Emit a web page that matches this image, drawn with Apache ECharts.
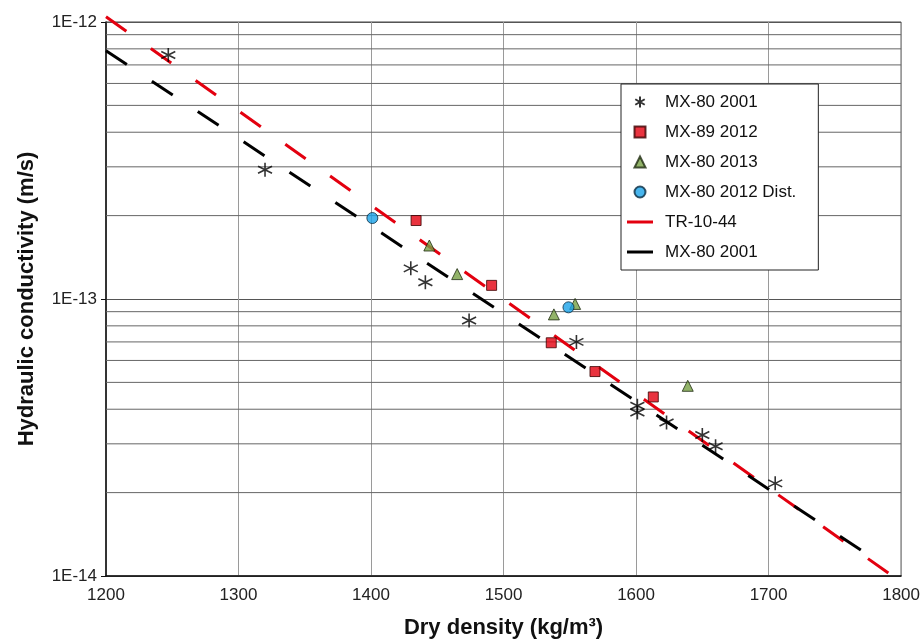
<!DOCTYPE html>
<html>
<head>
<meta charset="utf-8">
<script src="https://cdn.jsdelivr.net/npm/echarts@6/dist/echarts.min.js"></script>
<style>
html,body{margin:0;padding:0;background:#fff;}
#chart{width:923px;height:644px;}
</style>
</head>
<body>
<div id="chart"></div>
<script>
// ---- data ----
const mx80_2001 = [[1247,7.6e-13],[1320,2.93e-13],[1430,1.29e-13],[1441,1.15e-13],[1474,8.36e-14],[1555,7.0e-14],[1601,4.12e-14],[1601,3.89e-14],[1623,3.58e-14],[1650,3.23e-14],[1660,2.94e-14],[1705,2.16e-14]];
const mx89_2012 = [[1434,1.92e-13],[1491,1.12e-13],[1536,6.95e-14],[1569,5.47e-14],[1613,4.43e-14]];
const mx80_2013 = [[1444,1.56e-13],[1465,1.23e-13],[1538,8.8e-14],[1554,9.6e-14],[1639,4.86e-14]];
const mx80_2012dist = [[1401,1.96e-13],[1549,9.33e-14]];
const tr1044 = [[1200,1.045e-12],[1800,9.5e-15]];
const fit2001 = [[1200,7.87e-13],[1780,1.15e-14]];
const minorGrid = [2e-14,3e-14,4e-14,5e-14,6e-14,7e-14,8e-14,9e-14,2e-13,3e-13,4e-13,5e-13,6e-13,7e-13,8e-13,9e-13];
const xTicks = [1200,1300,1400,1500,1600,1700,1800];
const legendNames = ['MX-80 2001','MX-89 2012','MX-80 2013','MX-80 2012 Dist.','TR-10-44','MX-80 2001 (fit)'];

const FONT = "'Liberation Sans', Arial, sans-serif";
const asterisk = 'path://M6,0 L6,12 M0.8,3 L11.2,9 M0.8,9 L11.2,3';
const icons = [
  'path://M5,0 L5,10 M0.7,2.5 L9.3,7.5 M0.7,7.5 L9.3,2.5',
  'path://M0,0 H10 V10 H0 Z',
  'path://M5,0 L10,10 H0 Z',
  'path://M0,5 A5,5 0 1,0 10,5 A5,5 0 1,0 0,5 Z',
  'path://M0,0 H26 V3 H0 Z',
  'path://M0,0 H26 V3 H0 Z'
];
const xMin = xTicks[0], xMax = xTicks[xTicks.length-1];

const gridSeries = minorGrid.map(v => ({
  type:'line', data:[[xMin, v],[xMax, v]], symbol:'none', silent:true, z:1,
  lineStyle:{color:'#666', width:1}, emphasis:{disabled:true}, tooltip:{show:false}
}));

const chart = echarts.init(document.getElementById('chart'), null, {renderer:'canvas'});
const option = {
  animation: false,
  backgroundColor: '#fff',
  grid: {left:106, right:20, top:22, bottom:68, show:true, borderColor:'#444', borderWidth:1},
  xAxis: {
    type:'value', min:xMin, max:xMax, interval:100,
    name:'Dry density (kg/m\u00b3)', nameLocation:'middle', nameGap:41,
    nameTextStyle:{fontFamily:FONT, fontSize:22, fontWeight:'bold', color:'#111'},
    axisLine:{lineStyle:{color:'#111', width:1.5}},
    axisTick:{show:false},
    axisLabel:{fontFamily:FONT, fontSize:17, color:'#222', margin:11, formatter: v => String(v)},
    splitLine:{show:true, lineStyle:{color:'#9a9a9a', width:1}}
  },
  yAxis: {
    type:'log', logBase:10, min:1e-14, max:1e-12,
    name:'Hydraulic conductivity (m/s)', nameLocation:'middle', nameGap:68, nameRotate:90,
    nameTextStyle:{fontFamily:FONT, fontSize:22, fontWeight:'bold', color:'#111'},
    axisLine:{show:true, lineStyle:{color:'#111', width:1.5}},
    axisTick:{show:true, length:5, lineStyle:{color:'#111'}},
    axisLabel:{fontFamily:FONT, fontSize:17, color:'#222', margin:9,
      formatter: v => '1E' + Math.round(Math.log10(v))},
    splitLine:{show:true, lineStyle:{color:'#555', width:1}}
  },
  legend: {
    data: legendNames.map((n,i) => ({name:n, icon:icons[i]})),
    orient:'vertical', left:621, top:84,
    backgroundColor:'#fff', borderColor:'#222', borderWidth:1,
    padding:[9,22,9,6], itemGap:12, itemWidth:26, itemHeight:11,
    symbolKeepAspect:true,
    textStyle:{fontFamily:FONT, fontSize:17, color:'#111', lineHeight:18, padding:[0,0,0,7]},
    formatter: n => n.replace(' (fit)','')
  },
  series: gridSeries.concat([
    {type:'scatter', name:legendNames[0], data:mx80_2001, symbol:asterisk, symbolSize:14, z:5,
      itemStyle:{color:'rgba(0,0,0,0)', borderColor:'#000', borderWidth:1.6}},
    {type:'scatter', name:legendNames[1], data:mx89_2012, symbol:'rect', symbolSize:10, z:5,
      itemStyle:{color:'#e3000f', borderColor:'#3a0000', borderWidth:1}},
    {type:'scatter', name:legendNames[2], data:mx80_2013, symbol:'triangle', symbolSize:11, z:5,
      itemStyle:{color:'#77a043', borderColor:'#1e2a10', borderWidth:1}},
    {type:'scatter', name:legendNames[3], data:mx80_2012dist, symbol:'circle', symbolSize:11, z:5,
      itemStyle:{color:'#1aa3e8', borderColor:'#0a2a40', borderWidth:1}},
    {type:'line', name:legendNames[4], data:tr1044, symbol:'none', clip:false, z:3,
      itemStyle:{color:'#e3000f'},
      lineStyle:{color:'#e3000f', width:3, type:[25,30]}},
    {type:'line', name:legendNames[5], data:fit2001, symbol:'none', clip:false, z:3,
      itemStyle:{color:'#000'},
      lineStyle:{color:'#000', width:3, type:[25,30]}}
  ])
};
chart.setOption(option);
</script>
</body>
</html>
